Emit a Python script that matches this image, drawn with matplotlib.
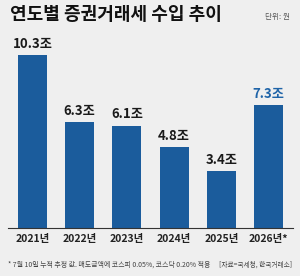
import matplotlib.pyplot as plt

plt.rcParams['font.family'] = ['Noto Sans CJK KR', 'DejaVu Sans']

years = ['2021년', '2022년', '2023년', '2024년', '2025년', '2026년*']
values = [10.3, 6.3, 6.1, 4.8, 3.4, 7.3]
labels = ['10.3조', '6.3조', '6.1조', '4.8조', '3.4조', '7.3조']

bg = '#efefef'
bar_col = '#1b5c9c'
hi_col = '#1f64a8'

fig = plt.figure(figsize=(3.0, 2.76), dpi=100)
fig.patch.set_facecolor(bg)

# axes placed so baseline sits at ~y=228px
ax = fig.add_axes([8/300, 48/276, 285/300, 188/276])
ax.set_facecolor(bg)
x = range(len(values))
ax.bar(x, values, width=0.615, color=bar_col)
for i, v in enumerate(values):
    c = hi_col if i == len(values) - 1 else '#1a1a1a'
    ax.text(i, v + 0.25, labels[i], ha='center', va='bottom',
            fontsize=9.5, fontweight='bold', color=c)

ax.set_xlim(-0.52, 5.52)
ax.set_ylim(0, 11.19)
ax.set_yticks([])
ax.set_xticks(list(x))
ax.set_xticklabels(years, fontsize=7.5, fontweight='bold', color='#222222')
ax.tick_params(axis='x', length=0, pad=4)
for s in ['top', 'right', 'left']:
    ax.spines[s].set_visible(False)
ax.spines['bottom'].set_color('#333333')
ax.spines['bottom'].set_linewidth(0.8)

fig.text(10/300, 1 - 15/276, '연도별 증권거래세 수입 추이', fontsize=13,
         fontweight='bold', color='#111111', va='center', ha='left')
fig.text(290/300, 1 - 17/276, '단위: 원', fontsize=5.5, color='#555555',
         va='center', ha='right')
fig.text(8/300, 1 - 265/276, '* 7월 10일 누적 추정 값. 매도금액에 코스피 0.05%, 코스닥 0.20% 적용',
         fontsize=5.0, color='#444444', va='center', ha='left')
fig.text(292/300, 1 - 265/276, '[자료=국세청, 한국거래소]', fontsize=4.8,
         color='#444444', va='center', ha='right')

fig.savefig('out.png', dpi=100, facecolor=bg)
